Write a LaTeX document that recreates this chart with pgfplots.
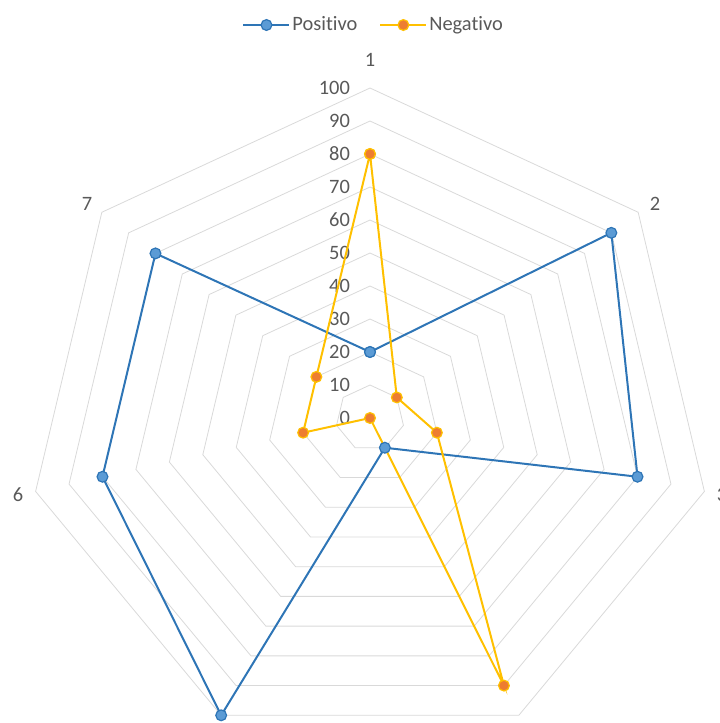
\documentclass[border=0pt]{standalone}
\usepackage{fontspec}
\setmainfont[Ligatures=NoCommon]{Carlito}
\usepackage{pgfplots}
\usepackage{pgfplotstable}
\pgfplotsset{compat=1.18}

\definecolor{posline}{HTML}{2E75B6}
\definecolor{posfill}{HTML}{5B9BD5}
\definecolor{negline}{HTML}{FFC000}
\definecolor{negfill}{HTML}{ED7D31}
\definecolor{gridgray}{HTML}{D9D9D9}
\definecolor{labelgray}{HTML}{595959}

% spoke angle (degrees) and value; the first spoke is repeated to close the polygon
\pgfplotstableread{
angle     value
90        20
38.5714   90
-12.8571  80
-64.2857  10
-115.7143 100
-167.1429 80
-218.5714 80
-270      20
}\positivo

\pgfplotstableread{
angle     value
90        80
38.5714   10
-12.8571  20
-64.2857  90
-115.7143 0
-167.1429 20
-218.5714 20
-270      80
}\negativo

\begin{document}
\fontsize{20.5}{24}\selectfont
\begin{tikzpicture}
\begin{axis}[
  at={(0,0)}, anchor=south west,
  scale only axis, width=720bp, height=723bp,
  xmin=-107.87, xmax=102.04, ymin=-92.42, ymax=126.67,
  hide axis, clip=false,
  legend columns=2,
  legend style={draw=none, fill=none, at={(0.519,0.9654)}, anchor=center,
    font=\fontsize{20.5}{24}\selectfont, text=labelgray,
    /tikz/every even column/.append style={column sep=20bp}},
  legend image code/.code={\draw[mark repeat=2,mark phase=2,#1]
    plot coordinates {(0bp,0bp) (23bp,0bp) (46bp,0bp)};},
]
% heptagonal grid rings
\pgfplotsinvokeforeach{10,20,30,40,50,60,70,80,90,100}{
  \addplot[gridgray, line width=0.8bp, data cs=polar, forget plot]
    coordinates {(90,#1) (38.5714,#1) (-12.8571,#1) (-64.2857,#1)
                 (-115.7143,#1) (-167.1429,#1) (-218.5714,#1) (-270,#1)};
}
% value labels along the first spoke
\pgfplotsinvokeforeach{0,10,20,30,40,50,60,70,80,90,100}{
  \node[anchor=east, text=labelgray, inner sep=0pt] at (axis cs:-5.8,#1) {#1};
}
% category labels
\node[text=labelgray] at (axis cs:0,108.5) {1};
\node[text=labelgray] at (axis cs:83.1,64.8) {2};
\node[text=labelgray] at (axis cs:102.6,-23.3) {3};
\node[text=labelgray] at (axis cs:46,-96.5) {4};
\node[text=labelgray] at (axis cs:-46,-96.5) {5};
\node[text=labelgray] at (axis cs:-102.6,-23.3) {6};
\node[text=labelgray] at (axis cs:-82.5,64.8) {7};

\addplot[posline, line width=2bp, mark=*, mark size=5.4bp,
  mark options={fill=posfill, draw=posline, line width=1.2bp}, data cs=polar]
  table[x=angle, y=value] {\positivo};
\addlegendentry{Positivo}
\addplot[negline, line width=2bp, mark=*, mark size=5.4bp,
  mark options={fill=negfill, draw=negline, line width=1.2bp}, data cs=polar]
  table[x=angle, y=value] {\negativo};
\addlegendentry{Negativo}
\end{axis}
\pgfresetboundingbox
\useasboundingbox (0,0) rectangle (720bp,723bp);
\end{tikzpicture}
\end{document}
